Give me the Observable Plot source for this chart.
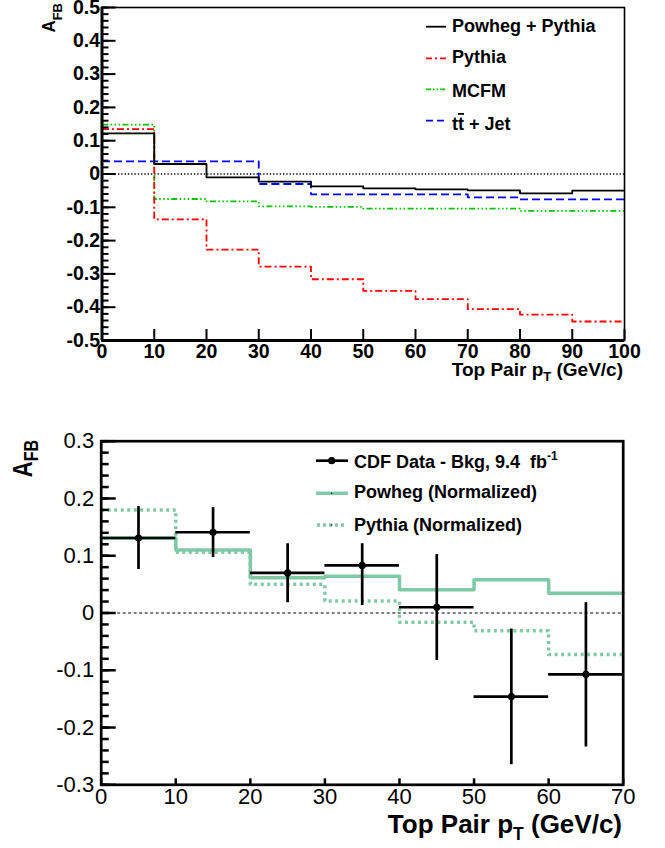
<!DOCTYPE html>
<html>
<head>
<meta charset="utf-8">
<script src="https://cdn.jsdelivr.net/npm/d3@7"></script>
<script src="https://cdn.jsdelivr.net/npm/@observablehq/plot@0.6"></script>
<style>
  html, body { margin: 0; padding: 0; background: #fff; }
  #wrap { position: relative; width: 665px; height: 848px; overflow: hidden; background: #fff; }
  #wrap svg { position: absolute; left: 0; }
</style>
</head>
<body>
<div id="wrap"></div>
<script>
// ---------- DATA: top panel (model predictions, 10 GeV bins) ----------
const topEdges = [0, 10, 20, 30, 40, 50, 60, 70, 80, 90, 100];
const topPowhegPythia = [0.122, 0.030, -0.010, -0.023, -0.037, -0.043, -0.046, -0.049, -0.058, -0.050];
const topPythia = [0.135, -0.136, -0.227, -0.278, -0.316, -0.351, -0.376, -0.406, -0.422, -0.443];
const topMCFM = [0.148, -0.075, -0.082, -0.097, -0.099, -0.104, -0.104, -0.104, -0.111, -0.111];
const topTTJet = [0.038, 0.038, 0.038, -0.030, -0.061, -0.061, -0.061, -0.070, -0.076, -0.076];
const topXTicks = [0, 10, 20, 30, 40, 50, 60, 70, 80, 90, 100];
const topYTicks = [-0.5, -0.4, -0.3, -0.2, -0.1, 0, 0.1, 0.2, 0.3, 0.4, 0.5];
const topLegendLabels = ["Powheg + Pythia", "Pythia", "MCFM", "tt + Jet"];

// ---------- DATA: bottom panel (CDF data vs normalized predictions) ----------
const botEdges = [0, 10, 20, 30, 40, 50, 60, 70];
const cdfCenters = [5, 15, 25, 35, 45, 55, 65];
const cdfValues = [0.131, 0.141, 0.070, 0.083, 0.010, -0.146, -0.107];
const cdfErrHigh = [0.055, 0.043, 0.051, 0.038, 0.092, 0.118, 0.125];
const cdfErrLow = [0.055, 0.044, 0.052, 0.070, 0.093, 0.119, 0.127];
const powhegNorm = [0.131, 0.110, 0.0615, 0.064, 0.0405, 0.058, 0.0346];
const pythiaNorm = [0.180, 0.106, 0.050, 0.021, -0.016, -0.031, -0.0725];
const botXTicks = [0, 10, 20, 30, 40, 50, 60, 70];
const botYTicks = [-0.3, -0.2, -0.1, 0, 0.1, 0.2, 0.3];
const botLegendLabels = ["CDF Data - Bkg, 9.4\u00a0\u00a0fb", "Powheg (Normalized)", "Pythia (Normalized)"];

// ---------- helpers ----------
function stepData(edges, values) {
  const pts = values.map((v, i) => ({x: edges[i], y: v}));
  pts.push({x: edges[edges.length - 1], y: values[values.length - 1]});
  return pts;
}
const FONT = "'Liberation Sans', Arial, Helvetica, sans-serif";
const fmt = d => String(d);

const RED = "#ff0000", GREEN = "#00c400", BLUE = "#0000ff", TEAL = "#80c9a6";
const wrap = document.getElementById("wrap");

// ================= TOP PANEL =================
const topStyles = [
  {values: topPowhegPythia, stroke: "#000", dash: null, legendDash: null},
  {values: topPythia, stroke: RED, dash: "7,3,2,3", legendDash: "6,3,2,3"},
  {values: topMCFM, stroke: GREEN, dash: "6,2.5,1.5,2.5,1.5,2.5,1.5,2.5", legendDash: "5,2,1.5,2,1.5,2"},
  {values: topTTJet, stroke: BLUE, dash: "8,4", legendDash: "7,4"}
];
const topX = [topEdges[0], topEdges[topEdges.length - 1]];
const topY = [topYTicks[0], topYTicks[topYTicks.length - 1]];

const topPlot = Plot.plot({
  width: 665, height: 390,
  marginLeft: 101.5, marginRight: 41, marginTop: 7, marginBottom: 50,
  x: {domain: topX, label: null},
  y: {domain: topY, label: null},
  style: {fontFamily: FONT, fontSize: "19.5px", fontWeight: "bold", background: "#fff", overflow: "visible"},
  marks: [
    Plot.ruleY([0], {stroke: "#000", strokeWidth: 1.3, strokeDasharray: "1.3,2"}),
    ...topStyles.slice().reverse().map(s =>
      Plot.line(stepData(topEdges, s.values), {
        x: "x", y: "y", curve: "step-after", stroke: s.stroke, strokeWidth: 1.8,
        strokeDasharray: s.dash, strokeLinecap: "butt"
      })),
    Plot.frame({stroke: "#000", strokeWidth: 1.6}),
    Plot.ruleX([topX[0]], {stroke: "#000", strokeWidth: 3}),
    Plot.ruleY([topY[0]], {stroke: "#000", strokeWidth: 3}),
    // x ticks (inward)
    Plot.axisX({ticks: topXTicks, tickSize: -11, fill: "none", strokeWidth: 2, label: null}),
    Plot.axisX({ticks: topXTicks, tickSize: 0, tickPadding: 4, tickFormat: fmt, label: null,
      fontSize: 19.5, fontWeight: "bold", fill: "#000"}),
    // y ticks (inward, major + minor)
    Plot.axisY({ticks: topYTicks, tickSize: -14, fill: "none", strokeWidth: 2, label: null}),
    Plot.axisY({ticks: d3.ticks(topY[0], topY[1], 50), tickSize: -7, fill: "none", strokeWidth: 2, label: null}),
    Plot.axisY({ticks: topYTicks, tickSize: 0, tickPadding: 2, tickFormat: fmt, label: null,
      fontSize: 19.5, fontWeight: "bold", fill: "#000"})
  ]
});
topPlot.style.top = "0px";
wrap.appendChild(topPlot);

{
  const svg = d3.select(topPlot);
  const g = svg.append("g").attr("font-family", FONT).attr("font-weight", "bold")
    .attr("fill", "#000").attr("text-anchor", "start");
  const lineY = [26.7, 58.3, 89.3, 120.7];
  const baseY = [32.3, 62.7, 96.7, 130];
  topStyles.forEach((s, i) => {
    g.append("line").attr("x1", 426).attr("x2", 446).attr("y1", lineY[i]).attr("y2", lineY[i])
      .attr("stroke", s.stroke).attr("stroke-width", 1.8)
      .attr("stroke-dasharray", s.legendDash);
    const t = g.append("text").attr("x", 452).attr("y", baseY[i]).attr("font-size", 18)
      .attr("text-anchor", "start");
    const lab = topLegendLabels[i];
    if (i === 3) {
      t.append("tspan").text(lab[0]);
      t.append("tspan").attr("style", "text-decoration: overline").text(lab[1]);
      t.append("tspan").text(lab.slice(2));
    } else {
      t.text(lab);
    }
  });
  // x-axis title
  const xt = g.append("text").attr("x", 623).attr("y", 376).attr("text-anchor", "end").attr("font-size", 19);
  xt.append("tspan").text("Top Pair p");
  xt.append("tspan").attr("font-size", 13).attr("dy", 5).text("T");
  xt.append("tspan").attr("dy", -5).text(" (GeV/c)");
  // y-axis title
  const yt = g.append("text").attr("transform", "translate(55,3) rotate(-90) scale(1,1.05)")
    .attr("text-anchor", "end").attr("font-size", 17);
  yt.append("tspan").text("A");
  yt.append("tspan").attr("font-size", 13).attr("dy", 6.5).text("FB");
}

// ================= BOTTOM PANEL =================
const botX = [botEdges[0], botEdges[botEdges.length - 1]];
const botY = [botYTicks[0], botYTicks[botYTicks.length - 1]];
const cdf = cdfCenters.map((c, i) => ({
  x: c, y: cdfValues[i], x1: botEdges[i], x2: botEdges[i + 1],
  y1: cdfValues[i] - cdfErrLow[i], y2: cdfValues[i] + cdfErrHigh[i]
}));

const botPlot = Plot.plot({
  width: 665, height: 458,
  marginLeft: 100.7, marginRight: 42.3, marginTop: 50.7, marginBottom: 63.7,
  x: {domain: botX, label: null},
  y: {domain: botY, label: null},
  style: {fontFamily: FONT, fontSize: "22px", fontWeight: "normal", background: "#fff", overflow: "visible"},
  marks: [
    Plot.ruleY([0], {stroke: "#000", strokeWidth: 1.2, strokeDasharray: "3,2.5"}),
    Plot.line(stepData(botEdges, pythiaNorm), {x: "x", y: "y", curve: "step-after",
      stroke: TEAL, strokeWidth: 3.5, strokeDasharray: "3,3.5", strokeLinecap: "butt"}),
    Plot.line(stepData(botEdges, powhegNorm), {x: "x", y: "y", curve: "step-after",
      stroke: TEAL, strokeWidth: 3.5}),
    Plot.ruleY(cdf, {y: "y", x1: "x1", x2: "x2", stroke: "#000", strokeWidth: 2.7}),
    Plot.ruleX(cdf, {x: "x", y1: "y1", y2: "y2", stroke: "#000", strokeWidth: 2.7}),
    Plot.dot(cdf, {x: "x", y: "y", r: 3.6, fill: "#000", stroke: "none"}),
    Plot.frame({stroke: "#000", strokeWidth: 2.7}),
    Plot.axisX({ticks: botXTicks, tickSize: -6, fill: "none", strokeWidth: 2.5, label: null}),
    Plot.axisX({ticks: botXTicks, tickSize: 0, tickPadding: 4, tickFormat: fmt, label: null,
      fontSize: 22, fill: "#000"}),
    Plot.axisY({ticks: botYTicks, tickSize: -15, fill: "none", strokeWidth: 2.5, label: null}),
    Plot.axisY({ticks: d3.ticks(botY[0], botY[1], 30), tickSize: -8, fill: "none", strokeWidth: 2.5, label: null}),
    Plot.axisY({ticks: botYTicks, tickSize: 0, tickPadding: 7, tickFormat: fmt, label: null,
      fontSize: 22, fill: "#000"})
  ]
});
botPlot.style.top = "390px";
wrap.appendChild(botPlot);

{
  const svg = d3.select(botPlot);
  const g = svg.append("g").attr("font-family", FONT).attr("font-weight", "bold")
    .attr("fill", "#000").attr("text-anchor", "start");
  const lineY = [70.7, 103.3, 135];
  const baseY = [77.7, 108.3, 141];
  // item 1: data marker
  g.append("line").attr("x1", 316).attr("x2", 348).attr("y1", lineY[0]).attr("y2", lineY[0])
    .attr("stroke", "#000").attr("stroke-width", 2.7);
  g.append("circle").attr("cx", 331.7).attr("cy", lineY[0]).attr("r", 3.6).attr("fill", "#000");
  // item 2: powheg
  g.append("line").attr("x1", 316).attr("x2", 348).attr("y1", lineY[1]).attr("y2", lineY[1])
    .attr("stroke", TEAL).attr("stroke-width", 3.5);
  g.append("circle").attr("cx", 331.7).attr("cy", lineY[1]).attr("r", 0.7).attr("fill", "#000");
  // item 3: pythia
  g.append("line").attr("x1", 317).attr("x2", 347).attr("y1", lineY[2]).attr("y2", lineY[2])
    .attr("stroke", TEAL).attr("stroke-width", 3.5).attr("stroke-dasharray", "3,3");
  g.append("circle").attr("cx", 331.7).attr("cy", lineY[2]).attr("r", 0.7).attr("fill", "#000");
  botLegendLabels.forEach((lab, i) => {
    const t = g.append("text").attr("x", 354).attr("y", baseY[i]).attr("font-size", 18)
      .attr("text-anchor", "start");
    t.append("tspan").text(lab);
    if (i === 0) t.append("tspan").attr("font-size", 12).attr("dy", -8).text("-1");
  });
  // x-axis title
  const xt = g.append("text").attr("x", 622).attr("y", 443).attr("text-anchor", "end").attr("font-size", 26);
  xt.append("tspan").text("Top Pair p");
  xt.append("tspan").attr("font-size", 17.5).attr("dy", 7).text("T");
  xt.append("tspan").attr("dy", -7).text(" (GeV/c)");
  // y-axis title
  const yt = g.append("text").attr("transform", "translate(32,50) rotate(-90) scale(1,1.25)")
    .attr("text-anchor", "end").attr("font-size", 22);
  yt.append("tspan").text("A");
  yt.append("tspan").attr("font-size", 16).attr("dy", 5).text("FB");
}
</script>
</body>
</html>
